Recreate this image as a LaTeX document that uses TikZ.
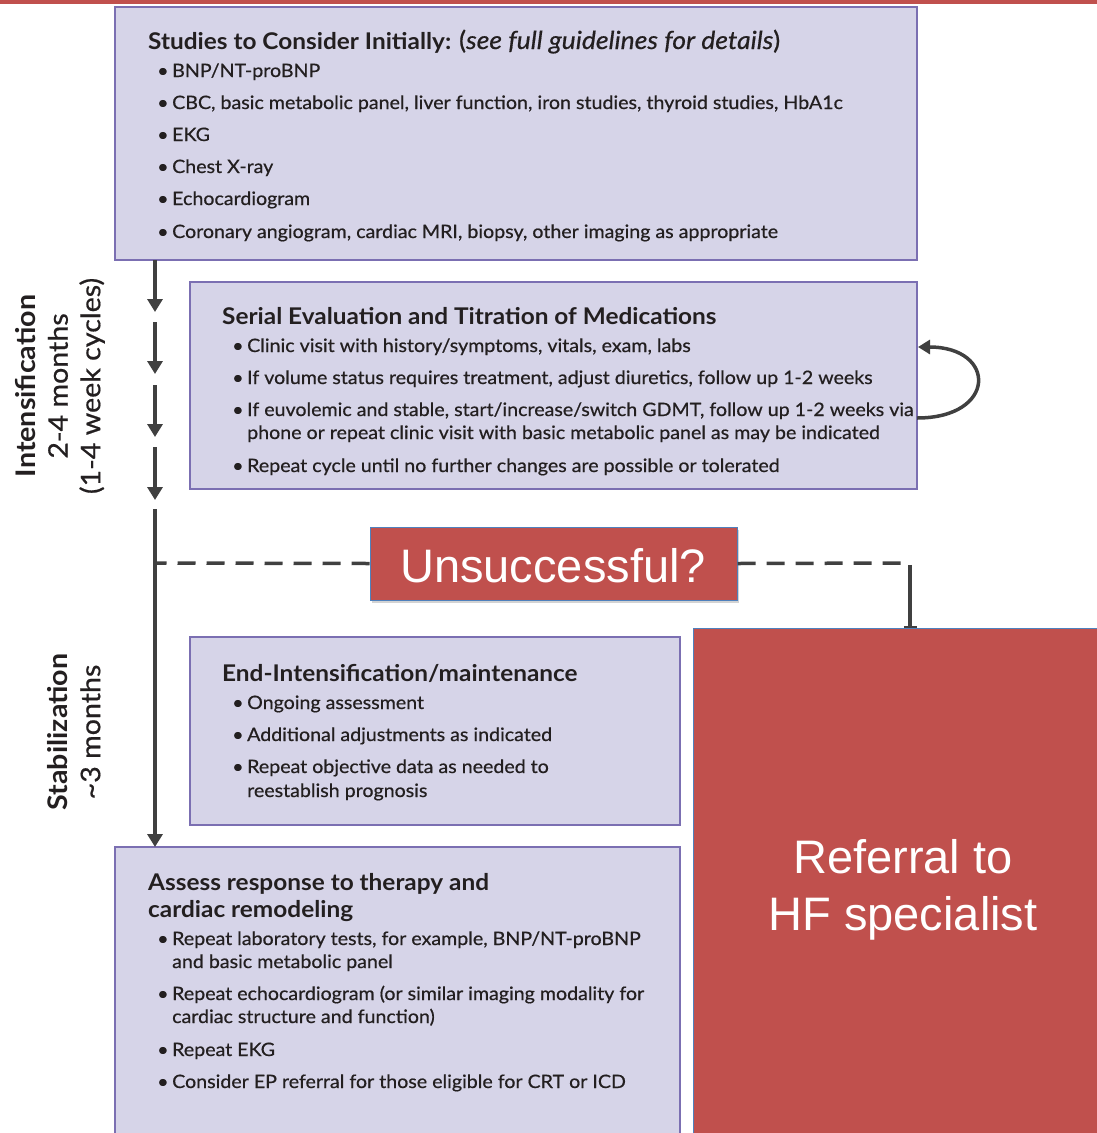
\documentclass[tikz,border=0pt]{standalone}
\usepackage{fontspec}
\setmainfont{Lato}[FakeStretch=1.06, UprightFeatures={FakeBold=0.6}, ItalicFeatures={FakeBold=0.6}]
\newfontfamily\arialf{Liberation Sans}
\usetikzlibrary{arrows.meta,shadows}
\definecolor{boxfill}{HTML}{D6D4E8}
\definecolor{boxline}{HTML}{7B6FB2}
\definecolor{alertred}{HTML}{C0504D}
\definecolor{alertline}{HTML}{4F81BD}
\definecolor{flow}{HTML}{404040}
\definecolor{ink}{HTML}{231F20}
\newcommand{\blt}[1]{\makebox[15pt][l]{\textbullet}#1}
\tikzset{
  panel/.style={draw=boxline, fill=boxfill, line width=2.4pt},
  alert/.style={draw=alertline, fill=alertred, line width=1pt},
  title/.style={anchor=base west, inner sep=0pt, text=ink, font=\fontsize{23}{27}\selectfont\bfseries},
  item/.style={anchor=base west, inner sep=0pt, text=ink, font=\fontsize{18.5}{23}\selectfont},
  flowline/.style={draw=flow, line width=4pt},
  flowarrow/.style={flowline, -{Triangle[length=13pt,width=15pt]}},
  phase/.style={rotate=90, align=center, text=ink, inner sep=0pt, font=\fontsize{27}{32.5}\selectfont},
  bigword/.style={text=white, inner sep=0pt, font=\arialf\fontsize{47}{56}\selectfont},
}
\begin{document}
\begin{tikzpicture}[x=1pt,y=-1pt]
\useasboundingbox (0,0) rectangle (1097,1133);
\clip (0,0) rectangle (1097,1133);
% top rule
\fill[alertred] (0,0) rectangle (1097,4);

% panels
\draw[panel] (115,7) rectangle (917,260);
\draw[panel] (190,282) rectangle (917,489);
\draw[panel] (190,637) rectangle (680,825);
\draw[panel] (115,847) rectangle (680,1150);

% initial studies
\node[title] (t1) at (148,49) {Studies to Consider Initially: {\mdseries\fontsize{25}{27}\selectfont(\textit{see full guidelines for details})}};
\node[item] (a1) at (157,77) {\blt{BNP/NT-proBNP}};
\node[item] (a2) at (157,109) {\blt{CBC, basic metabolic panel, liver function, iron studies, thyroid studies, HbA1c}};
\node[item] (a3) at (157,141) {\blt{EKG}};
\node[item] (a4) at (157,173) {\blt{Chest X-ray}};
\node[item] (a5) at (157,205) {\blt{Echocardiogram}};
\node[item] (a6) at (157,238) {\blt{Coronary angiogram, cardiac MRI, biopsy, other imaging as appropriate}};

% serial evaluation
\node[title] (t2) at (222,324) {Serial Evaluation and Titration of Medications};
\node[item] (b1) at (232,352) {\blt{Clinic visit with history/symptoms, vitals, exam, labs}};
\node[item] (b2) at (232,384) {\blt{If volume status requires treatment, adjust diuretics, follow up 1-2 weeks}};
\node[item] (b3) at (232,416) {\blt{If euvolemic and stable, start/increase/switch GDMT, follow up 1-2 weeks via}};
\node[item] (b3b) at (247,439) {phone or repeat clinic visit with basic metabolic panel as may be indicated};
\node[item] (b4) at (232,472) {\blt{Repeat cycle until no further changes are possible or tolerated}};

% maintenance
\node[title] (t3) at (222,681) {End-Intensification/maintenance};
\node[item] (c1) at (232,709) {\blt{Ongoing assessment}};
\node[item] (c2) at (232,741) {\blt{Additional adjustments as indicated}};
\node[item] (c3) at (232,773) {\blt{Repeat objective data as needed to}};
\node[item] (c3b) at (247,797) {reestablish prognosis};

% response assessment
\node[title] (t4) at (148,890) {Assess response to therapy and};
\node[title] (t4b) at (148,917) {cardiac remodeling};
\node[item] (d1) at (157,945) {\blt{Repeat laboratory tests, for example, BNP/NT-proBNP}};
\node[item] (d1b) at (172,968) {and basic metabolic panel};
\node[item] (d2) at (157,1000) {\blt{Repeat echocardiogram (or similar imaging modality for}};
\node[item] (d2b) at (172,1023) {cardiac structure and function)};
\node[item] (d3) at (157,1056) {\blt{Repeat EKG}};
\node[item] (d4) at (157,1088) {\blt{Consider EP referral for those eligible for CRT or ICD}};

% phase labels
\node[phase] (ph1) at (60,386) {\textbf{Intensification}\\2-4 months\\(1-4 week cycles)};
\node[phase] (ph2) at (74,732) {\textbf{Stabilization}\\\textasciitilde3 months};

% referral
\draw[alert] (693,628) rectangle (1110,1150);
\node[bigword, anchor=base] (r1) at (903,873) {Referral to};
\node[bigword, anchor=base] (r2) at (903,930) {HF specialist};

% timeline arrows
\coordinate (s1a) at (155,260); \coordinate (s1b) at (155,312);
\coordinate (s2a) at (155,322); \coordinate (s2b) at (155,374);
\coordinate (s3a) at (155,385); \coordinate (s3b) at (155,437);
\coordinate (s4a) at (155,447); \coordinate (s4b) at (155,500);
\coordinate (s5a) at (155,509); \coordinate (s5b) at (155,847);
\draw[flowarrow] (s1a) -- (s1b);
\draw[flowarrow] (s2a) -- (s2b);
\draw[flowarrow] (s3a) -- (s3b);
\draw[flowarrow] (s4a) -- (s4b);
\draw[flowarrow] (s5a) -- (s5b);

% unsuccessful branch
\node[alert, drop shadow={opacity=0.35, shadow xshift=2pt, shadow yshift=-3pt}, minimum width=367pt, minimum height=73pt, inner sep=0pt] (uns) at (553.5,563.5) {};
\node[bigword, anchor=base] (unst) at (553,582) {Unsuccessful?};
\coordinate (jn) at (155,563);
\coordinate (cr) at (910,563);
\coordinate (rt) at (910,628);
\draw[flowline, line width=3.5pt, dash pattern=on 18pt off 11pt] (uns.west) -- (jn);
\draw[flowline, line width=3.5pt, dash pattern=on 18pt off 11pt] (uns.east) -- (cr);
\draw[flowline, line width=3.5pt, -{Bar[width=13pt,line width=2pt]}] ([yshift=-1.75pt]cr) -- (rt);

% titration loop
\coordinate (lp1) at (917,418);
\coordinate (lp2) at (918,347);
\draw[flowline, line width=3.5pt, -{Triangle[length=12pt,width=14pt]}] (lp1) .. controls (997,418) and (997,347) .. (lp2);
\end{tikzpicture}
\end{document}
